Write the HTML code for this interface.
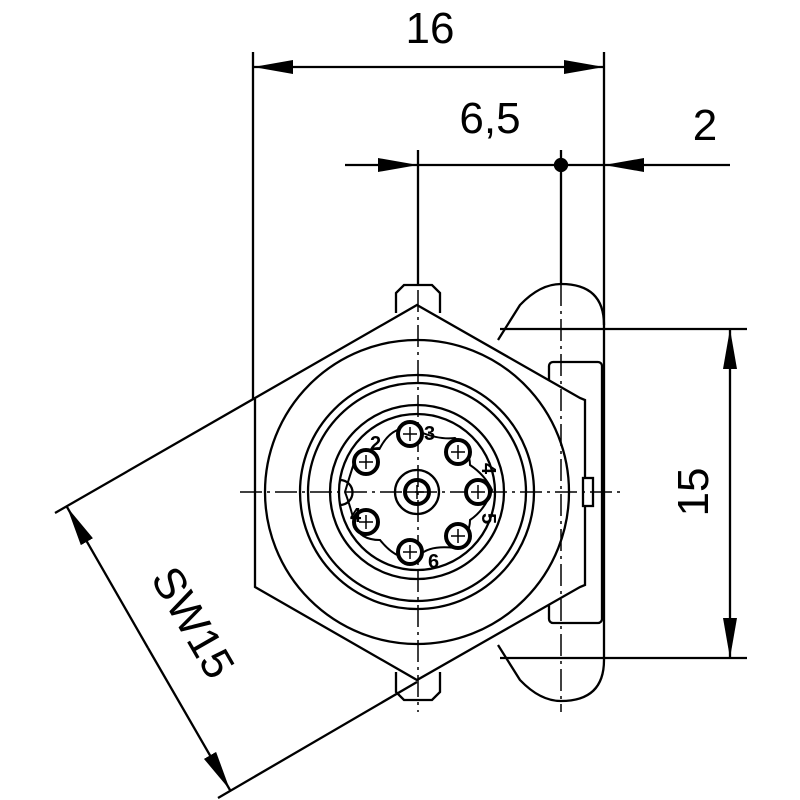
<!DOCTYPE html>
<html><head><meta charset="utf-8"><style>
body{margin:0;background:#fff}
svg{display:block}
text{font-family:"Liberation Sans",sans-serif;fill:#000}
</style></head><body>
<svg width="800" height="800" viewBox="0 0 800 800" xmlns="http://www.w3.org/2000/svg">
<defs>
<marker id="ar" viewBox="0 0 40 14" refX="40" refY="7" markerWidth="40" markerHeight="14" markerUnits="userSpaceOnUse" orient="auto"><path d="M0,0 L40,7 L0,14 z" fill="#000"/></marker>
</defs>
<g stroke="#000" fill="none" stroke-width="2.3">
<line x1="253" y1="52" x2="253" y2="400"/>
<line x1="604" y1="52" x2="604" y2="660"/>
<line x1="418" y1="150" x2="418" y2="285"/>
<line x1="561" y1="150" x2="561" y2="284"/>
<line x1="430" y1="67" x2="253" y2="67" marker-end="url(#ar)"/>
<line x1="430" y1="67" x2="604" y2="67" marker-end="url(#ar)"/>
<line x1="345" y1="165" x2="418" y2="165" marker-end="url(#ar)"/>
<line x1="418" y1="165" x2="604" y2="165"/>
<line x1="730" y1="165" x2="604" y2="165" marker-end="url(#ar)"/>
<circle cx="561" cy="165" r="6" fill="#000"/>
<line x1="500" y1="329" x2="747" y2="329"/>
<line x1="500" y1="658" x2="747" y2="658"/>
<line x1="730" y1="492" x2="730" y2="329" marker-end="url(#ar)"/>
<line x1="730" y1="492" x2="730" y2="658" marker-end="url(#ar)"/>
<line x1="55" y1="513" x2="255" y2="398"/>
<line x1="218" y1="798" x2="417" y2="682"/>
<line x1="148" y1="648" x2="67" y2="507" marker-end="url(#ar)"/>
<line x1="148" y1="648" x2="230" y2="790" marker-end="url(#ar)"/>
<path d="M498,340 L520,305 Q540,284 561,284 Q604,284 604,325"/>
<path d="M498,645 L520,680 Q540,701 561,701 Q604,701 604,660"/>
<rect x="549" y="362" width="53" height="261" rx="4" fill="#fff"/>
<path d="M396,313 L396,293 L404,285 L432,285 L440,293 L440,313"/>
<path d="M396,672 L396,692 L404,700 L432,700 L440,692 L440,672"/>
<path d="M417,305 L580,398 L585,400 L585,585 L580,587 L417,680 L255,587 L255,398 Z" fill="#fff"/>
<rect x="583" y="478" width="10" height="28" fill="#fff"/>
<circle cx="417" cy="492" r="152"/>
<circle cx="417" cy="492" r="117"/>
<circle cx="417" cy="492" r="109"/>
<circle cx="417" cy="492" r="87"/>
<circle cx="417" cy="492" r="78"/>
<path d="M380,448 Q395,420 420,432 Q440,440 455,438 Q470,450 470,465 Q485,475 492,490 Q485,510 470,520 Q470,535 455,548 Q430,545 420,555 Q400,565 380,540 Q360,540 355,525 Q350,505 345,492 Q350,475 355,460 Q365,448 380,448 Z" stroke-width="2"/>
<circle cx="417" cy="492" r="22" fill="#fff"/>
<circle cx="417" cy="492" r="12" stroke-width="4"/>
<path d="M340,480 A12,12 0 0 1 340,505"/>
<g stroke-width="1.5" stroke-dasharray="22,5,3,5">
<line x1="418" y1="290" x2="418" y2="712"/>
<line x1="240" y1="492" x2="622" y2="492"/>
<line x1="561" y1="284" x2="561" y2="712"/>
<line x1="500" y1="329" x2="604" y2="329"/>
<line x1="500" y1="658" x2="604" y2="658"/>
</g>
</g>
<g stroke="#000" fill="#fff" stroke-width="4">
<circle cx="410" cy="434" r="12"/>
<circle cx="458" cy="452" r="12"/>
<circle cx="478" cy="492" r="12"/>
<circle cx="458" cy="536" r="12"/>
<circle cx="410" cy="552" r="12"/>
<circle cx="366" cy="522" r="12"/>
<circle cx="366" cy="462" r="12"/>
</g>
<g stroke="#000" stroke-width="1.5">
<path d="M403,434h14M410,427v14M451,452h14M458,445v14M471,492h14M478,485v14M451,536h14M458,529v14M403,552h14M410,545v14M359,522h14M366,515v14M359,462h14M366,455v14M410,492h14M417,485v14"/>
</g>
<g font-size="20" font-weight="bold">
<text x="370" y="450">2</text><text x="424" y="440">3</text>
<text x="475" y="470" transform="rotate(90 482 470)">4</text>
<text x="475" y="520" transform="rotate(90 482 520)">5</text>
<text x="428" y="568">6</text><text x="350" y="522">4</text>
</g>
<text x="430" y="43" font-size="44" text-anchor="middle">16</text>
<text x="490" y="133" font-size="44" text-anchor="middle">6,5</text>
<text x="705" y="140" font-size="44" text-anchor="middle">2</text>
<text x="0" y="0" font-size="44" text-anchor="middle" transform="translate(708,492) rotate(-90)">15</text>
<text x="0" y="0" font-size="44" text-anchor="middle" transform="translate(180,630) rotate(60)">SW15</text>
</svg>
</body></html>
